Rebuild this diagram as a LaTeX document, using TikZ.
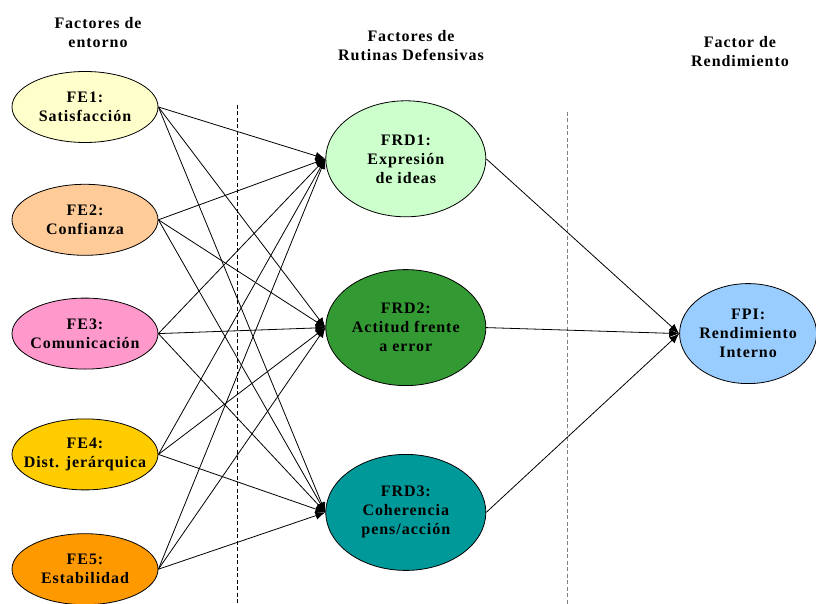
\documentclass[tikz,border=0pt]{standalone}
\usepackage{fontspec}
\setmainfont{Liberation Serif}
\newfontfamily\diagfont[LetterSpace=6]{Liberation Serif}
\usetikzlibrary{arrows.meta,shapes.geometric,positioning}

\definecolor{feyellow}{HTML}{FFFFCC}
\definecolor{fepeach}{HTML}{FFCC99}
\definecolor{fepink}{HTML}{FF99CC}
\definecolor{fegold}{HTML}{FFCC00}
\definecolor{feorange}{HTML}{FF9900}
\definecolor{frdlight}{HTML}{CCFFCC}
\definecolor{frdgreen}{HTML}{339933}
\definecolor{frdteal}{HTML}{009999}
\definecolor{fpiblue}{HTML}{99CCFF}

\begin{document}
\begin{tikzpicture}[x=1pt,y=1pt,->,>={Latex[length=10pt,width=8pt]},line width=0.8pt,
    font=\diagfont\bfseries\fontsize{16}{19}\selectfont,
    factor/.style={ellipse,draw=black,line width=0.8pt,align=center,inner sep=0pt},
    fe/.style={factor,minimum width=146pt,minimum height=71pt,inner xsep=-12pt},
    frd/.style={factor,minimum width=160pt,minimum height=116pt},
    fpi/.style={factor,minimum width=137pt,minimum height=100pt,inner xsep=-8pt},
    heading/.style={align=center},
    divider/.style={-,dash pattern=on 4pt off 2.5pt,line width=0.8pt}]
    \useasboundingbox (0,0) rectangle (816,-604);

    %titles
    \node[heading] (t_fe) at (98,-33) {Factores de\\entorno};
    \node[heading] (t_frd) at (411,-46) {Factores de\\Rutinas Defensivas};
    \node[heading] (t_fpi) at (740,-52) {Factor de\\Rendimiento};

    %dashed dividers
    \draw[divider] (237,-105) -- (237,-604);
    \draw[divider,gray] (567,-112) -- (567,-604);

    %entorno column
    \node[fe,fill=feyellow] (fe1) at (85,-107) {FE1:\\Satisfacción};
    \node[fe,fill=fepeach] (fe2) [below=41pt of fe1] {FE2:\\Confianza};
    \node[fe,fill=fepink] (fe3) [below=42pt of fe2] {FE3:\\Comunicación};
    \node[fe,fill=fegold] (fe4) [below=49pt of fe3] {FE4:\\Dist. jerárquica};
    \node[fe,fill=feorange] (fe5) [below=43pt of fe4] {FE5:\\Estabilidad};

    %rutinas defensivas column
    \node[frd,fill=frdgreen] (frd2) [right=167pt of fe3,yshift=6pt] {FRD2:\\Actitud frente\\a error};
    \node[frd,fill=frdlight] (frd1) [above=52pt of frd2] {FRD1:\\Expresión\\de ideas};
    \node[frd,fill=frdteal] (frd3) [below=68pt of frd2] {FRD3:\\Coherencia\\pens/acción};

    %rendimiento
    \node[fpi,fill=fpiblue] (fpi) [right=193pt of frd2,yshift=-6pt] {FPI:\\Rendimiento\\Interno};

    %paths to FRD1
    \path[->]
    (fe1.east) edge (frd1.west)
    (fe2.east) edge (frd1.west)
    (fe3.east) edge (frd1.west)
    (fe4.east) edge (frd1.west)
    (fe5.east) edge (frd1.west);

    %paths to FRD2
    \path[->]
    (fe1.east) edge (frd2.west)
    (fe2.east) edge (frd2.west)
    (fe3.east) edge (frd2.west)
    (fe4.east) edge (frd2.west)
    (fe5.east) edge (frd2.west);

    %paths to FRD3
    \path[->]
    (fe1.east) edge (frd3.west)
    (fe2.east) edge (frd3.west)
    (fe3.east) edge (frd3.west)
    (fe4.east) edge (frd3.west)
    (fe5.east) edge (frd3.west);

    %paths to FPI
    \path[->]
    (frd1.east) edge (fpi.west)
    (frd2.east) edge (fpi.west)
    (frd3.east) edge (fpi.west);

\end{tikzpicture}
\end{document}
